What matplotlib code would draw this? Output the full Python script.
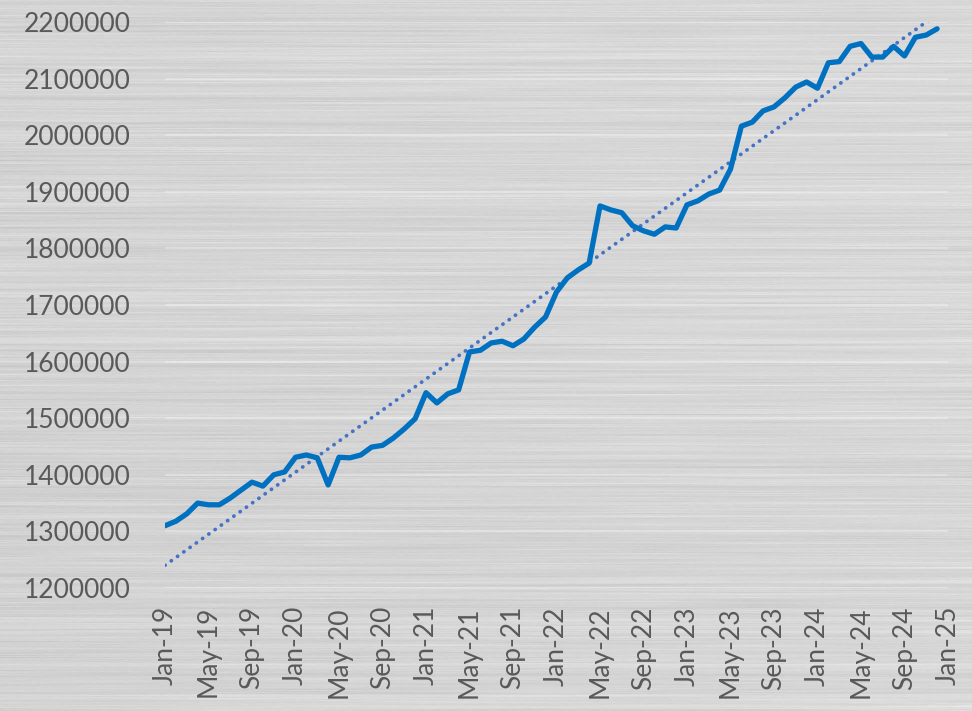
import numpy as np
import matplotlib
matplotlib.use("Agg")
import matplotlib.pyplot as plt

# ---- data ----
values = [
    1310000, 1318000, 1331000, 1350000, 1347000, 1347000, 1359000, 1373000, 1387000, 1380000, 1400000, 1405000,
    1431000, 1435000, 1430000, 1382000, 1431000, 1430000, 1435000, 1449000, 1452000, 1465000, 1481000, 1499000,
    1545000, 1527000, 1543000, 1550000, 1617000, 1620000, 1633000, 1636000, 1628000, 1640000, 1661000, 1679000,
    1723000, 1748000, 1762000, 1774000, 1875000, 1868000, 1863000, 1840000, 1831000, 1825000, 1838000, 1836000,
    1877000, 1884000, 1896000, 1903000, 1940000, 2016000, 2023000, 2043000, 2050000, 2066000, 2085000, 2094000,
    2083000, 2128000, 2130000, 2157000, 2162000, 2138000, 2138000, 2157000, 2140000, 2173000, 2177000, 2188000,
]
tick_labels = ["Jan-19", "May-19", "Sep-19", "Jan-20", "May-20", "Sep-20", "Jan-21", "May-21", "Sep-21",
               "Jan-22", "May-22", "Sep-22", "Jan-23", "May-23", "Sep-23", "Jan-24", "May-24", "Sep-24", "Jan-25"]
y_ticks = [1200000, 1300000, 1400000, 1500000, 1600000, 1700000, 1800000, 1900000, 2000000, 2100000, 2200000]

W, H = 972, 711
fig = plt.figure(figsize=(W / 100, H / 100), dpi=100)

# ---- brushed metal background (decorative texture) ----
rng = np.random.default_rng(7)
row = rng.normal(0, 1, H)
row = np.convolve(row, np.ones(3) / 3, mode="same")
nc = 10
coarse = rng.normal(0, 1, (H, nc))
xs = np.linspace(0, nc - 1, W)
coarse_i = np.array([np.interp(xs, np.arange(nc), coarse[r]) for r in range(H)])
fine = rng.normal(0, 1, (H, W // 4))
fine_i = np.repeat(fine, 4, axis=1)[:, :W]
yy, xx = np.mgrid[0:H, 0:W]
grad = 0.02 * (xx / W) - 0.01 * (yy / H)
tex = 0.835 + 0.02 * row[:, None] + 0.015 * coarse_i + 0.004 * fine_i + grad
tex = np.clip(tex, 0, 1)
bg = fig.add_axes([0, 0, 1, 1], zorder=-5)
bg.imshow(tex, cmap="gray", vmin=0, vmax=1, aspect="auto", interpolation="bilinear")
bg.axis("off")

# ---- main axes ----
ax = fig.add_axes([165 / W, 1 - 588 / H, 783 / W, (588 - 22) / H])
ax.patch.set_alpha(0)
x = np.arange(len(values))
ax.set_xlim(0, 72)
ax.set_ylim(1200000, 2200000)

for yv in y_ticks:
    ax.axhline(yv, color="white", lw=1.2, alpha=0.35, zorder=1)

ax.plot(x, values, color="#0070C0", lw=3.8, solid_joinstyle="round", solid_capstyle="round", zorder=3)
coef = np.polyfit(x, values, 1)
trend = np.polyval(coef, x)
ax.plot(x, trend, color="#4472C4", lw=2.7, linestyle=(0, (0.05, 2.0)), dash_capstyle="round", zorder=2)

ax.set_xticks(np.arange(0, 73, 4))
ax.set_xticklabels(tick_labels, rotation=90)
ax.set_yticks(y_ticks)
ax.set_yticklabels([str(v) for v in y_ticks])
for lab in ax.get_xticklabels() + ax.get_yticklabels():
    lab.set_family("Lato")
    lab.set_fontsize(19)
    lab.set_color("#595959")
ax.tick_params(axis="both", length=0)
ax.tick_params(axis="x", pad=13)
ax.tick_params(axis="y", pad=25)
for s in ax.spines.values():
    s.set_visible(False)

fig.savefig("out.png", dpi=100)
